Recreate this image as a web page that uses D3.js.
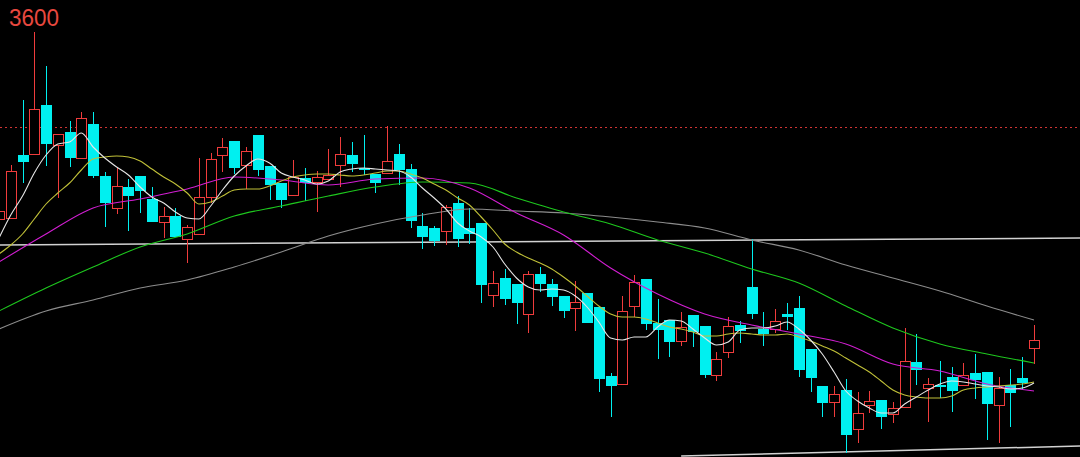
<!DOCTYPE html>
<html>
<head>
<meta charset="utf-8">
<script src="https://cdn.jsdelivr.net/npm/d3@7"></script>
<style>
  html, body { margin: 0; padding: 0; background: #000; overflow: hidden; }
</style>
</head>
<body>
<svg id="chart" width="1080" height="457"></svg>
<script>
// daily candles (index 0 is cut by the left edge)
var opens = [3507, 3508, 3572, 3572, 3622, 3581, 3595, 3568, 3603, 3551,
  3518, 3540, 3551, 3528, 3504, 3511, 3487, 3492, 3529, 3571,
  3586, 3561, 3592, 3561, 3544, 3531, 3549, 3544, 3547, 3561,
  3572, 3559, 3553, 3553, 3573, 3558, 3501, 3499, 3495, 3524,
  3499, 3504, 3431, 3449, 3443, 3412, 3453, 3443, 3431, 3418,
  3434, 3420, 3351, 3342, 3420, 3448, 3404, 3407, 3385, 3412,
  3401, 3351, 3374, 3402, 3440, 3398, 3397, 3413, 3419, 3378,
  3341, 3324, 3337, 3297, 3321, 3327, 3312, 3319, 3365, 3338,
  3342, 3350, 3341, 3354, 3355, 3321, 3342, 3349, 3378];
var closes = [3516, 3556, 3565, 3618, 3583, 3593, 3569, 3609, 3551, 3524,
  3541, 3531, 3536, 3505, 3511, 3490, 3500, 3530, 3568, 3580,
  3559, 3576, 3557, 3542, 3527, 3550, 3544, 3550, 3552, 3573,
  3563, 3558, 3544, 3566, 3557, 3506, 3490, 3486, 3520, 3488,
  3493, 3442, 3444, 3428, 3424, 3453, 3443, 3430, 3416, 3425,
  3404, 3348, 3341, 3416, 3445, 3403, 3397, 3385, 3400, 3395,
  3352, 3368, 3401, 3396, 3413, 3393, 3406, 3410, 3357, 3349,
  3324, 3333, 3292, 3314, 3326, 3310, 3319, 3366, 3357, 3343,
  3340, 3336, 3352, 3347, 3323, 3339, 3334, 3344, 3387];
var highs = [3522, 3562, 3627, 3695, 3661, 3593, 3606, 3615, 3615, 3555,
  3559, 3548, 3551, 3540, 3520, 3519, 3502, 3569, 3574, 3589,
  3586, 3580, 3592, 3561, 3544, 3567, 3559, 3556, 3578, 3590,
  3585, 3592, 3553, 3601, 3583, 3563, 3514, 3501, 3522, 3531,
  3519, 3504, 3456, 3458, 3443, 3456, 3460, 3448, 3431, 3446,
  3434, 3420, 3354, 3431, 3452, 3448, 3428, 3407, 3415, 3412,
  3401, 3375, 3410, 3406, 3488, 3415, 3418, 3424, 3431, 3378,
  3341, 3341, 3348, 3335, 3336, 3327, 3325, 3399, 3393, 3349,
  3366, 3360, 3364, 3373, 3355, 3350, 3358, 3370, 3402];
var lows = [3503, 3508, 3544, 3572, 3561, 3529, 3560, 3568, 3549, 3500,
  3513, 3496, 3514, 3505, 3489, 3490, 3464, 3492, 3524, 3555,
  3553, 3538, 3551, 3527, 3519, 3531, 3526, 3515, 3547, 3540,
  3555, 3552, 3534, 3553, 3542, 3499, 3478, 3481, 3482, 3480,
  3483, 3424, 3420, 3422, 3403, 3394, 3435, 3421, 3409, 3396,
  3404, 3335, 3310, 3342, 3410, 3397, 3368, 3370, 3381, 3380,
  3349, 3346, 3369, 3384, 3408, 3381, 3394, 3397, 3350, 3335,
  3310, 3310, 3274, 3284, 3314, 3298, 3304, 3319, 3342, 3305,
  3329, 3315, 3341, 3328, 3287, 3284, 3300, 3338, 3363];

// short moving averages, one value per candle
var ma5 = [3489, 3512, 3531, 3554, 3572, 3583, 3585, 3594, 3580, 3569,
  3560, 3552, 3540, 3530, 3524, 3515, 3509, 3508, 3521, 3537,
  3551, 3561, 3568, 3564, 3554, 3550, 3547, 3543, 3546, 3555,
  3558, 3559, 3558, 3557, 3556, 3550, 3539, 3529, 3518, 3504,
  3496, 3490, 3480, 3463, 3449, 3440, 3437, 3438, 3437, 3431,
  3420, 3405, 3389, 3387, 3390, 3390, 3400, 3407, 3406, 3398,
  3389, 3382, 3385, 3397, 3399, 3399, 3401, 3405, 3398, 3387,
  3373, 3355, 3336, 3326, 3319, 3314, 3314, 3323, 3330, 3337,
  3343, 3346, 3345, 3343, 3341, 3340, 3338, 3339, 3344];
var ma10 = [3473, 3482, 3493, 3508, 3523, 3534, 3544, 3557, 3568, 3570,
  3571, 3570, 3566, 3558, 3550, 3543, 3534, 3523, 3525, 3531,
  3537, 3538, 3538, 3541, 3546, 3550, 3552, 3553, 3553, 3552,
  3551, 3552, 3554, 3556, 3556, 3553, 3549, 3543, 3537, 3529,
  3522, 3510, 3497, 3483, 3475, 3469, 3464, 3458, 3450, 3441,
  3431, 3421, 3413, 3410, 3410, 3408, 3404, 3400, 3398, 3395,
  3391, 3391, 3393, 3394, 3393, 3392, 3392, 3393, 3390, 3386,
  3381, 3376, 3369, 3362, 3355, 3346, 3337, 3332, 3330, 3329,
  3329, 3331, 3337, 3339, 3340, 3341, 3342, 3343, 3345];

// slow moving averages, read every 4th candle
var slowIdx = [0, 4, 8, 12, 16, 20, 24, 28, 32, 36, 40, 44, 48, 52, 56, 60, 64, 68, 72, 76, 80, 84, 88];
var ma20 = [3465, 3493, 3519, 3528, 3538, 3550, 3547, 3542, 3548, 3549, 3539, 3514,
  3492, 3459, 3433, 3413, 3402, 3393, 3383, 3363, 3356, 3343, 3336];
var ma60 = [3416, 3439, 3460, 3480, 3493, 3511, 3521, 3531, 3540, 3545, 3544, 3529,
  3515, 3503, 3487, 3474, 3458, 3444, 3421, 3399, 3383, 3373, 3364];
var ma120 = [3398, 3416, 3427, 3439, 3447, 3460, 3475, 3491, 3503, 3512, 3518, 3516,
  3514, 3510, 3505, 3499, 3487, 3477, 3462, 3449, 3436, 3421, 3407];

// drawn trend lines (candle index, price)
var trendLines = [
  { i0: 0, p0: 3482, i1: 92, p1: 3489 },
  { i0: 58, p0: 3271, i1: 92, p1: 3281 }
];
var levelPrice = 3600;
var levelLabel = "3600";

var W = 1080, H = 457;
var svg = d3.select("#chart");
svg.append("rect").attr("width", W).attr("height", H).attr("fill", "#000");

var x = d3.scaleLinear().domain([0, 88]).range([-1, 1034]);
var y = d3.scaleLinear().domain([3270, 3727]).range([H, 0]);

var upColor = "#f03c3c";
var downColor = "#00f0f0";
var bodyW = 10;

// 3600 level, dotted red
svg.append("line")
  .attr("x1", 0).attr("x2", W)
  .attr("y1", Math.round(y(levelPrice)) + 0.5)
  .attr("y2", Math.round(y(levelPrice)) + 0.5)
  .attr("stroke", "#d03434")
  .attr("stroke-width", 1)
  .attr("stroke-dasharray", "2,3");

// trend lines
svg.selectAll(".trend").data(trendLines).enter().append("line")
  .attr("class", "trend")
  .attr("x1", function(d) { return x(d.i0); })
  .attr("y1", function(d) { return y(d.p0); })
  .attr("x2", function(d) { return x(d.i1); })
  .attr("y2", function(d) { return y(d.p1); })
  .attr("stroke", "#d2d2d2")
  .attr("stroke-width", 1.5);

var candles = opens.map(function(o, i) {
  return { i: i, o: o, c: closes[i], h: highs[i], l: lows[i], up: closes[i] > o };
});

var g = svg.append("g");
candles.forEach(function(d) {
  var cx = Math.round(x(d.i)) + 0.5;
  var top = Math.round(y(Math.max(d.o, d.c)));
  var bot = Math.round(y(Math.min(d.o, d.c)));
  var col = d.up ? upColor : downColor;
  if (d.up) {
    g.append("line").attr("x1", cx).attr("x2", cx)
      .attr("y1", y(d.h)).attr("y2", top).attr("stroke", col);
    g.append("line").attr("x1", cx).attr("x2", cx)
      .attr("y1", bot).attr("y2", y(d.l)).attr("stroke", col);
    g.append("rect")
      .attr("x", cx - bodyW / 2).attr("y", top + 0.5)
      .attr("width", bodyW).attr("height", Math.max(bot - top - 1, 1))
      .attr("fill", "#000").attr("stroke", col).attr("stroke-width", 1);
  } else {
    g.append("line").attr("x1", cx).attr("x2", cx)
      .attr("y1", y(d.h)).attr("y2", y(d.l)).attr("stroke", col);
    g.append("rect")
      .attr("x", cx - bodyW / 2 - 0.5).attr("y", top)
      .attr("width", bodyW + 1).attr("height", Math.max(bot - top, 2))
      .attr("fill", col);
  }
});

// moving average lines
var fastLine = d3.line()
  .x(function(d, i) { return x(i); })
  .y(function(d) { return y(d); })
  .curve(d3.curveMonotoneX);
var slowLine = d3.line()
  .x(function(d, i) { return x(slowIdx[i]); })
  .y(function(d) { return y(d); })
  .curve(d3.curveMonotoneX);

var maStyles = [
  { data: ma120, gen: slowLine, color: "#8c8c8c" },
  { data: ma60, gen: slowLine, color: "#1ec81e" },
  { data: ma20, gen: slowLine, color: "#d21ed2" },
  { data: ma10, gen: fastLine, color: "#c0c038" },
  { data: ma5, gen: fastLine, color: "#e6e6e6" }
];
maStyles.forEach(function(m) {
  svg.append("path")
    .attr("d", m.gen(m.data))
    .attr("fill", "none")
    .attr("stroke", m.color)
    .attr("stroke-width", 1.1);
});

svg.append("text")
  .attr("x", 9).attr("y", 26)
  .attr("fill", "#e8483f")
  .attr("font-family", "'Liberation Sans', Arial, sans-serif")
  .attr("font-size", 24)
  .attr("textLength", 50)
  .attr("lengthAdjust", "spacingAndGlyphs")
  .text(levelLabel);
</script>
</body>
</html>
